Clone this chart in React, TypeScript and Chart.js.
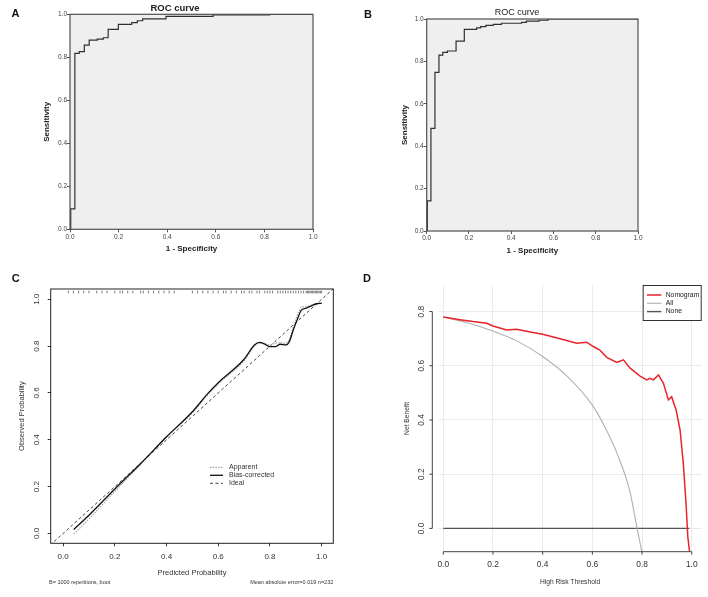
import React, { useEffect, useRef } from 'react';
import { Chart, registerables } from 'chart.js';

Chart.register(...registerables);

const FONT = '"Liberation Sans", Arial, Helvetica, sans-serif';

// ---------- Panel A: ROC curve (1 - specificity, sensitivity) ----------
const rocAFpr = [0, 0.003, 0.02, 0.038, 0.059, 0.079, 0.112, 0.137, 0.157, 0.199, 0.254, 0.277, 0.299, 0.395, 0.589, 0.822, 1];
const rocATpr = [0, 0.095, 0.818, 0.826, 0.857, 0.88, 0.885, 0.891, 0.93, 0.953, 0.961, 0.97, 0.979, 0.99, 0.997, 1, 1];

// ---------- Panel B: ROC curve ----------
const rocBFpr = [0, 0.003, 0.02, 0.039, 0.058, 0.076, 0.098, 0.139, 0.178, 0.236, 0.255, 0.28, 0.315, 0.354, 0.449, 0.472, 0.531, 0.575, 1];
const rocBTpr = [0, 0.142, 0.484, 0.748, 0.83, 0.843, 0.849, 0.896, 0.951, 0.958, 0.964, 0.97, 0.975, 0.98, 0.984, 0.99, 0.994, 1, 1];

const unitTicks = [0, 0.2, 0.4, 0.6, 0.8, 1.0];

// ---------- Panel C: calibration ----------
const calPredicted = [0.041, 0.1, 0.2, 0.3, 0.4, 0.5, 0.56, 0.6, 0.7, 0.74, 0.76, 0.78, 0.8, 0.82, 0.84, 0.86, 0.875, 0.89, 0.91, 0.92, 0.94, 0.96, 0.98, 1.0];
const calBiasCorrected = [0.017, 0.078, 0.19, 0.299, 0.413, 0.52, 0.598, 0.644, 0.744, 0.805, 0.816, 0.809, 0.798, 0.798, 0.808, 0.805, 0.819, 0.869, 0.926, 0.952, 0.962, 0.972, 0.981, 0.983];
const calApparent = [-0.003, 0.062, 0.18, 0.295, 0.41, 0.515, 0.592, 0.638, 0.738, 0.8, 0.812, 0.81, 0.805, 0.812, 0.815, 0.812, 0.83, 0.88, 0.945, 0.965, 0.97, 0.975, 0.982, 0.985];
const idealLine = [-0.05, 1.05];
const rugPredicted = [0.02, 0.04, 0.06, 0.08, 0.1, 0.13, 0.15, 0.17, 0.2, 0.22, 0.23, 0.25, 0.27, 0.3, 0.31, 0.33, 0.35, 0.37, 0.39, 0.41, 0.43, 0.5, 0.52, 0.54, 0.56, 0.58, 0.6, 0.62, 0.63, 0.65, 0.67, 0.69, 0.7, 0.72, 0.73, 0.75, 0.76, 0.78, 0.79, 0.8, 0.81, 0.83, 0.84, 0.85, 0.86, 0.87, 0.88, 0.89, 0.9, 0.91, 0.92, 0.93, 0.94, 0.945, 0.95, 0.955, 0.96, 0.965, 0.97, 0.975, 0.98, 0.985, 0.99, 0.995, 1.0];
const RUG_Y = 1.031;
const calTicks = [0, 0.2, 0.4, 0.6, 0.8, 1.0];

// ---------- Panel D: decision curve ----------
const dcaNomX = [0, 0.067, 0.12, 0.175, 0.2, 0.255, 0.295, 0.35, 0.4, 0.47, 0.537, 0.577, 0.604, 0.63, 0.658, 0.698, 0.725, 0.752, 0.792, 0.819, 0.832, 0.846, 0.866, 0.886, 0.906, 0.919, 0.937, 0.953, 0.966, 0.977, 0.984, 0.991];
const dcaNomY = [0.78, 0.77, 0.763, 0.757, 0.747, 0.732, 0.735, 0.725, 0.716, 0.7, 0.683, 0.687, 0.671, 0.658, 0.631, 0.612, 0.622, 0.591, 0.562, 0.548, 0.554, 0.548, 0.566, 0.535, 0.474, 0.486, 0.437, 0.363, 0.24, 0.092, -0.03, -0.086];
const dcaAllX = [0, 0.1, 0.2, 0.3, 0.4, 0.5, 0.6, 0.65, 0.7, 0.75, 0.78, 0.8];
const dcaAllY = [0.78, 0.758, 0.728, 0.69, 0.634, 0.56, 0.455, 0.375, 0.275, 0.14, 0.0, -0.09];
const dcaNoneX = [0, 0.99];
const dcaNoneY = [0, 0];
const dcaXTicks = [0, 0.2, 0.4, 0.6, 0.8, 1.0];
const dcaYTicks = [0, 0.2, 0.4, 0.6, 0.8];

const pts = (xs: number[], ys: number[]) => xs.map((x, i) => ({ x, y: ys[i] }));
const fmt1 = (v: any) => Number(v).toFixed(1);
const setTicks = (arr: number[]) => (s: any) => {
  s.ticks = arr.map((v) => ({ value: v }));
};

// ---------- plugins ----------
const framePlugin = {
  id: 'frame',
  beforeDraw(chart: any, _a: any, o: any) {
    if (!o || !o.fill) return;
    const { ctx, chartArea: ca } = chart;
    ctx.save();
    ctx.fillStyle = o.fill;
    ctx.fillRect(ca.left, ca.top, ca.width, ca.height);
    ctx.restore();
  },
  afterDatasetsDraw(chart: any, _a: any, o: any) {
    if (!o || !o.stroke) return;
    const { ctx, chartArea: ca } = chart;
    ctx.save();
    ctx.strokeStyle = o.stroke;
    ctx.lineWidth = o.width;
    ctx.strokeRect(ca.left, ca.top, ca.width, ca.height);
    ctx.restore();
  },
};

const rAxesPlugin = {
  id: 'rAxes',
  afterDatasetsDraw(chart: any, _a: any, o: any) {
    if (!o || !o.color) return;
    const { ctx, chartArea: ca, scales } = chart;
    const xs = scales.x.ticks.map((t: any) => scales.x.getPixelForValue(t.value));
    const ys = scales.y.ticks.map((t: any) => scales.y.getPixelForValue(t.value));
    ctx.save();
    ctx.strokeStyle = o.color;
    ctx.lineWidth = o.width;
    ctx.beginPath();
    const yb = ca.bottom + o.xOffset;
    ctx.moveTo(xs[0], yb);
    ctx.lineTo(xs[xs.length - 1], yb);
    xs.forEach((px: number) => {
      ctx.moveTo(px, yb);
      ctx.lineTo(px, yb + o.tick);
    });
    const xl = ca.left - o.yOffset;
    ctx.moveTo(xl, ys[0]);
    ctx.lineTo(xl, ys[ys.length - 1]);
    ys.forEach((py: number) => {
      ctx.moveTo(xl, py);
      ctx.lineTo(xl - o.tick, py);
    });
    ctx.stroke();
    ctx.restore();
  },
};

const boxLegendPlugin = {
  id: 'boxLegend',
  afterDatasetsDraw(chart: any, _a: any, o: any) {
    if (!o || !o.items) return;
    const { ctx, chartArea: ca } = chart;
    const bx = o.alignRight ? ca.right - o.width : ca.left + o.left;
    const by = ca.top + o.top;
    ctx.save();
    if (o.border) {
      ctx.fillStyle = '#ffffff';
      ctx.fillRect(bx, by, o.width, o.height);
      ctx.strokeStyle = o.border;
      ctx.lineWidth = 1;
      ctx.strokeRect(bx + 0.5, by + 0.5, o.width - 1, o.height - 1);
    }
    ctx.font = `${o.fontSize}px ${FONT}`;
    ctx.textBaseline = 'middle';
    ctx.textAlign = 'left';
    const items = Array.from(o.items as number[]);
    items.forEach((idx: number, i: number) => {
      const ds = chart.data.datasets[idx];
      const y = by + o.rowY0 + i * o.rowH;
      ctx.beginPath();
      ctx.strokeStyle = ds.borderColor;
      ctx.lineWidth = ds.borderWidth;
      ctx.setLineDash(ds.borderDash ? Array.from(ds.borderDash) : []);
      ctx.moveTo(bx + o.lineX0, y);
      ctx.lineTo(bx + o.lineX1, y);
      ctx.stroke();
      ctx.setLineDash([]);
      ctx.fillStyle = o.color;
      ctx.fillText(ds.label, bx + o.textX, y);
    });
    ctx.restore();
  },
};

const notesPlugin = {
  id: 'notes',
  afterDraw(chart: any, _a: any, o: any) {
    if (!o || !o.texts) return;
    const { ctx } = chart;
    ctx.save();
    ctx.font = `${o.fontSize}px ${FONT}`;
    ctx.fillStyle = o.color;
    ctx.textBaseline = 'middle';
    Array.from(o.texts as any[]).forEach((t: any) => {
      ctx.textAlign = t.align;
      ctx.fillText(t.text, t.x, t.y);
    });
    ctx.restore();
  },
};

// ---------- configs ----------
function rocConfig(fpr: number[], tpr: number[], p: any) {
  return {
    type: 'scatter',
    data: {
      datasets: [
        {
          label: 'ROC',
          data: pts(fpr, tpr),
          showLine: true,
          stepped: 'before',
          borderColor: '#303030',
          borderWidth: 1.2,
          pointRadius: 0,
          fill: false,
        },
      ],
    },
    options: {
      responsive: false,
      animation: false,
      events: [],
      layout: { padding: { left: p.padL, right: p.padR, top: 0, bottom: 0 } },
      plugins: {
        legend: { display: false },
        tooltip: { enabled: false },
        title: {
          display: true,
          text: 'ROC curve',
          color: '#222',
          font: { family: FONT, size: p.titleSize, weight: p.titleWeight, lineHeight: 1.2 },
          padding: { top: p.titleTop, bottom: p.titleBottom },
        },
        frame: { fill: '#efefef', stroke: '#505050', width: 1.2 },
      },
      scales: {
        x: {
          type: 'linear',
          min: 0,
          max: 1,
          bounds: 'data',
          afterBuildTicks: setTicks(unitTicks),
          ticks: { callback: fmt1, font: { family: FONT, size: 6.5 }, color: '#444', padding: p.xTickPad, autoSkip: false, maxRotation: 0 },
          grid: { display: true, drawOnChartArea: false, drawTicks: true, tickLength: 3, color: '#555' },
          border: { display: false },
          title: {
            display: true,
            text: '1 - Specificity',
            color: '#222',
            font: { family: FONT, size: 8, weight: 'bold', lineHeight: 1.2 },
            padding: { top: 0, bottom: p.xTitlePad },
          },
          afterFit: (s: any) => {
            s.height = p.xAxisH;
            s.paddingLeft = 0;
            s.paddingRight = 0;
          },
        },
        y: {
          type: 'linear',
          min: 0,
          max: 1,
          bounds: 'data',
          afterBuildTicks: setTicks(unitTicks),
          ticks: { callback: fmt1, font: { family: FONT, size: 6.5 }, color: '#444', padding: 0, autoSkip: false },
          grid: { display: true, drawOnChartArea: false, drawTicks: true, tickLength: 3, color: '#555' },
          border: { display: false },
          title: {
            display: true,
            text: 'Sensitivity',
            color: '#222',
            font: { family: FONT, size: 8, weight: 'bold', lineHeight: 1.2 },
            padding: { top: p.yTitlePad, bottom: 0 },
          },
          afterFit: (s: any) => {
            s.width = p.yAxisW;
            s.paddingTop = 0;
            s.paddingBottom = 0;
          },
        },
      },
    },
    plugins: [framePlugin],
  };
}

function calConfig() {
  return {
    type: 'scatter',
    data: {
      datasets: [
        {
          label: 'Bias-corrected',
          data: pts(calPredicted, calBiasCorrected),
          showLine: true,
          cubicInterpolationMode: 'monotone',
          borderColor: '#111111',
          borderWidth: 1.3,
          pointRadius: 0,
        },
        {
          label: 'Apparent',
          data: pts(calPredicted, calApparent),
          showLine: true,
          cubicInterpolationMode: 'monotone',
          borderColor: '#a6a6a6',
          borderDash: [1.5, 1.2],
          borderWidth: 1.2,
          pointRadius: 0,
        },
        {
          label: 'Ideal',
          data: pts(idealLine, idealLine),
          showLine: true,
          borderColor: '#444444',
          borderDash: [3, 2.5],
          borderWidth: 1,
          pointRadius: 0,
        },
        {
          label: 'rug',
          data: rugPredicted.map((x) => ({ x, y: RUG_Y })),
          showLine: false,
          pointStyle: 'line',
          pointRadius: 1.3,
          pointRotation: 90,
          pointBorderColor: '#555555',
          pointBorderWidth: 0.8,
          borderColor: '#555555',
        },
      ],
    },
    options: {
      responsive: false,
      animation: false,
      events: [],
      layout: { padding: { left: 0, right: 21.7, top: 19, bottom: 0 } },
      plugins: {
        legend: { display: false },
        tooltip: { enabled: false },
        frame: { stroke: '#222', width: 1 },
        boxLegend: {
          items: [1, 0, 2],
          left: 159.3,
          top: 178.3,
          rowY0: 0,
          rowH: 8,
          lineX0: 0,
          lineX1: 13,
          textX: 19,
          fontSize: 7,
          color: '#333',
        },
        notes: {
          fontSize: 5.5,
          color: '#333',
          texts: [
            { text: 'B= 1000 repetitions, boot', x: 49, y: 312, align: 'left' },
            { text: 'Mean absolute error=0.019 n=232', x: 333.3, y: 312, align: 'right' },
          ],
        },
      },
      scales: {
        x: {
          type: 'linear',
          min: -0.048,
          max: 1.045,
          bounds: 'data',
          afterBuildTicks: setTicks(calTicks),
          ticks: { callback: fmt1, font: { family: FONT, size: 8 }, color: '#333', padding: 5.7, autoSkip: false, maxRotation: 0 },
          grid: { display: true, drawOnChartArea: false, drawTicks: true, tickLength: 3, color: '#333' },
          border: { display: false },
          title: {
            display: true,
            text: 'Predicted Probability',
            color: '#333',
            font: { family: FONT, size: 7.5, lineHeight: 1.2 },
            padding: { top: 0, bottom: 19.5 },
          },
          afterFit: (s: any) => {
            s.height = 53.7;
            s.paddingLeft = 0;
            s.paddingRight = 0;
          },
        },
        y: {
          type: 'linear',
          min: -0.042,
          max: 1.044,
          bounds: 'data',
          afterBuildTicks: setTicks(calTicks),
          ticks: {
            callback: fmt1,
            font: { family: FONT, size: 8 },
            color: '#333',
            padding: 5,
            minRotation: 90,
            maxRotation: 90,
            crossAlign: 'center',
            autoSkip: false,
          },
          grid: { display: true, drawOnChartArea: false, drawTicks: true, tickLength: 3, color: '#333' },
          border: { display: false },
          title: {
            display: true,
            text: 'Observed Probability',
            color: '#333',
            font: { family: FONT, size: 7.5, lineHeight: 1.2 },
            padding: { top: 17.2, bottom: 0 },
          },
          afterFit: (s: any) => {
            s.width = 50.7;
            s.paddingTop = 0;
            s.paddingBottom = 0;
          },
        },
      },
    },
    plugins: [framePlugin, boxLegendPlugin, notesPlugin],
  };
}

function dcaConfig() {
  return {
    type: 'scatter',
    data: {
      datasets: [
        {
          label: 'Nomogram',
          data: pts(dcaNomX, dcaNomY),
          showLine: true,
          borderColor: '#e8232a',
          borderWidth: 1.5,
          pointRadius: 0,
        },
        {
          label: 'All',
          data: pts(dcaAllX, dcaAllY),
          showLine: true,
          cubicInterpolationMode: 'monotone',
          borderColor: '#b0b0b0',
          borderWidth: 1.1,
          pointRadius: 0,
        },
        {
          label: 'None',
          data: pts(dcaNoneX, dcaNoneY),
          showLine: true,
          borderColor: '#555555',
          borderWidth: 1.4,
          pointRadius: 0,
        },
      ],
    },
    options: {
      responsive: false,
      animation: false,
      events: [],
      layout: { padding: { left: 0, right: 6.3, top: 15, bottom: 0 } },
      plugins: {
        legend: { display: false },
        tooltip: { enabled: false },
        rAxes: { color: '#444', width: 1, xOffset: 0, yOffset: 6, tick: 3 },
        boxLegend: {
          items: [0, 1, 2],
          alignRight: true,
          top: 0,
          width: 59,
          height: 36,
          border: '#333',
          rowY0: 10,
          rowH: 8.3,
          lineX0: 4.3,
          lineX1: 18.7,
          textX: 23,
          fontSize: 6.8,
          color: '#222',
        },
      },
      scales: {
        x: {
          type: 'linear',
          min: -0.02,
          max: 1.04,
          bounds: 'data',
          afterBuildTicks: setTicks(dcaXTicks),
          ticks: { callback: fmt1, font: { family: FONT, size: 8.4 }, color: '#333', padding: 8.3, autoSkip: false, maxRotation: 0 },
          grid: { display: true, drawOnChartArea: true, drawTicks: false, color: '#ebebeb', lineWidth: 1 },
          border: { display: false },
          title: {
            display: true,
            text: 'High Risk Threshold',
            color: '#333',
            font: { family: FONT, size: 6.7, lineHeight: 1.2 },
            padding: { top: 0, bottom: 11 },
          },
          afterFit: (s: any) => {
            s.height = 45.3;
            s.paddingLeft = 0;
            s.paddingRight = 0;
          },
        },
        y: {
          type: 'linear',
          min: -0.086,
          max: 0.898,
          bounds: 'data',
          afterBuildTicks: setTicks(dcaYTicks),
          ticks: {
            callback: fmt1,
            font: { family: FONT, size: 8.4 },
            color: '#333',
            padding: 10.75,
            minRotation: 90,
            maxRotation: 90,
            crossAlign: 'center',
            autoSkip: false,
          },
          grid: { display: true, drawOnChartArea: true, drawTicks: false, color: '#ebebeb', lineWidth: 1 },
          border: { display: false },
          title: {
            display: true,
            text: 'Net Benefit',
            color: '#333',
            font: { family: FONT, size: 6.7, lineHeight: 1.2 },
            padding: { top: 42.7, bottom: 0 },
          },
          afterFit: (s: any) => {
            s.width = 78.3;
            s.paddingTop = 0;
            s.paddingBottom = 0;
          },
        },
      },
    },
    plugins: [rAxesPlugin, boxLegendPlugin],
  };
}

function ChartCanvas({ left, top, width, height, make }: any) {
  const ref = useRef<HTMLCanvasElement>(null);
  useEffect(() => {
    const chart = new Chart(ref.current as HTMLCanvasElement, make() as any);
    return () => chart.destroy();
  }, []);
  return (
    <canvas
      ref={ref}
      width={width}
      height={height}
      style={{ position: 'absolute', left, top, width, height, display: 'block' }}
    />
  );
}

const letterStyle = (left: number, top: number): React.CSSProperties => ({
  position: 'absolute',
  left,
  top,
  fontFamily: FONT,
  fontWeight: 'bold',
  fontSize: 11,
  lineHeight: '11px',
  color: '#111',
});

export default function App() {
  return (
    <div
      style={{
        position: 'absolute',
        left: 0,
        top: 0,
        width: 708,
        height: 597,
        background: '#ffffff',
        overflow: 'hidden',
      }}
    >
      <ChartCanvas
        left={0}
        top={0}
        width={350}
        height={262}
        make={() =>
          rocConfig(rocAFpr, rocATpr, {
            padL: 37,
            padR: 37,
            yAxisW: 33,
            yTitlePad: 5.2,
            xAxisH: 32.7,
            xTitlePad: 8.9,
            xTickPad: 1,
            titleSize: 9.5,
            titleWeight: 'bold',
            titleTop: 2.5,
            titleBottom: 0.4,
          })
        }
      />
      <ChartCanvas
        left={360}
        top={0}
        width={348}
        height={262}
        make={() =>
          rocConfig(rocBFpr, rocBTpr, {
            padL: 36,
            padR: 70,
            yAxisW: 30.7,
            yTitlePad: 4.2,
            xAxisH: 31,
            xTitlePad: 6.5,
            xTickPad: 0.4,
            titleSize: 9,
            titleWeight: 'normal',
            titleTop: 7.5,
            titleBottom: 0.7,
          })
        }
      />
      <ChartCanvas left={0} top={270} width={355} height={327} make={calConfig} />
      <ChartCanvas left={360} top={270} width={348} height={327} make={dcaConfig} />
      <div style={letterStyle(11.5, 8)}>A</div>
      <div style={letterStyle(364, 8.5)}>B</div>
      <div style={letterStyle(11.7, 272.5)}>C</div>
      <div style={letterStyle(363, 272.5)}>D</div>
    </div>
  );
}
